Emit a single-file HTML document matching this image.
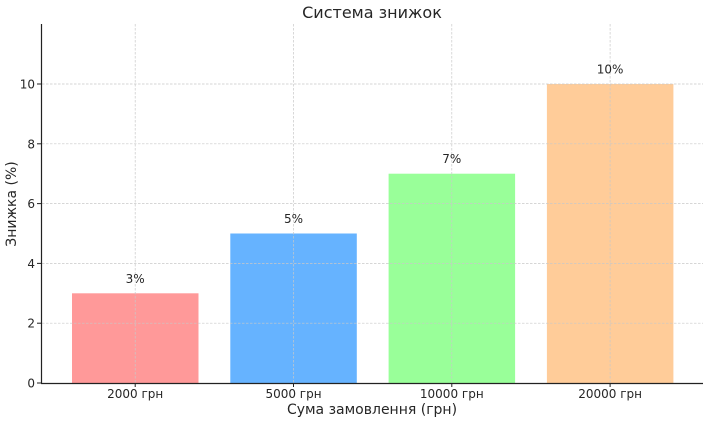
<!DOCTYPE html><html><head><meta charset="utf-8"><style>body{margin:0;background:#fff}svg{display:block}text{font-family:"DejaVu Sans","Liberation Sans",sans-serif;fill:#262626}</style></head><body>
<svg width="708" height="423" viewBox="0 0 708 423">
<rect x="72" y="293.3" width="126.5" height="89.7" fill="#ff9999"/>
<rect x="230.3" y="233.5" width="126.5" height="149.5" fill="#66b3ff"/>
<rect x="388.6" y="173.7" width="126.5" height="209.3" fill="#99ff99"/>
<rect x="546.9" y="84" width="126.5" height="299" fill="#ffcc99"/>
<g stroke="#c8c8c8" stroke-width="0.7" stroke-dasharray="2.5,1.5">
<line x1="42" x2="703" y1="323.2" y2="323.2"/><line x1="42" x2="703" y1="263.4" y2="263.4"/><line x1="42" x2="703" y1="203.6" y2="203.6"/><line x1="42" x2="703" y1="143.8" y2="143.8"/><line x1="42" x2="703" y1="84" y2="84"/>
<line x1="135.2" x2="135.2" y1="24" y2="383"/><line x1="293.5" x2="293.5" y1="24" y2="383"/><line x1="451.8" x2="451.8" y1="24" y2="383"/><line x1="610.1" x2="610.1" y1="24" y2="383"/>
</g>
<g stroke="#222" stroke-width="1.2"><line x1="41.5" y1="24" x2="41.5" y2="383.5"/><line x1="41" y1="383.5" x2="703" y2="383.5"/></g>
<g stroke="#222" stroke-width="1"><line x1="37" x2="41" y1="383" y2="383"/><line x1="37" x2="41" y1="323.2" y2="323.2"/><line x1="37" x2="41" y1="263.4" y2="263.4"/><line x1="37" x2="41" y1="203.6" y2="203.6"/><line x1="37" x2="41" y1="143.8" y2="143.8"/><line x1="37" x2="41" y1="84" y2="84"/>
<line x1="135.2" x2="135.2" y1="383" y2="387"/><line x1="293.5" x2="293.5" y1="383" y2="387"/><line x1="451.8" x2="451.8" y1="383" y2="387"/><line x1="610.1" x2="610.1" y1="383" y2="387"/></g>
<g font-size="12" text-anchor="end"><text x="35" y="387.5">0</text><text x="35" y="327.7">2</text><text x="35" y="267.9">4</text><text x="35" y="208.1">6</text><text x="35" y="148.3">8</text><text x="35" y="88.5">10</text></g>
<g font-size="12" text-anchor="middle"><text x="135.2" y="398">2000 грн</text><text x="293.5" y="398">5000 грн</text><text x="451.8" y="398">10000 грн</text><text x="610.1" y="398">20000 грн</text>
<text x="135.2" y="283">3%</text><text x="293.5" y="223">5%</text><text x="451.8" y="163">7%</text><text x="610.1" y="73.5">10%</text></g>
<text x="372" y="414" font-size="14" text-anchor="middle">Сума замовлення (грн)</text>
<text transform="translate(16,204) rotate(-90)" font-size="14" text-anchor="middle">Знижка (%)</text>
<text x="372" y="18" font-size="16" text-anchor="middle">Система знижок</text>
</svg></body></html>
